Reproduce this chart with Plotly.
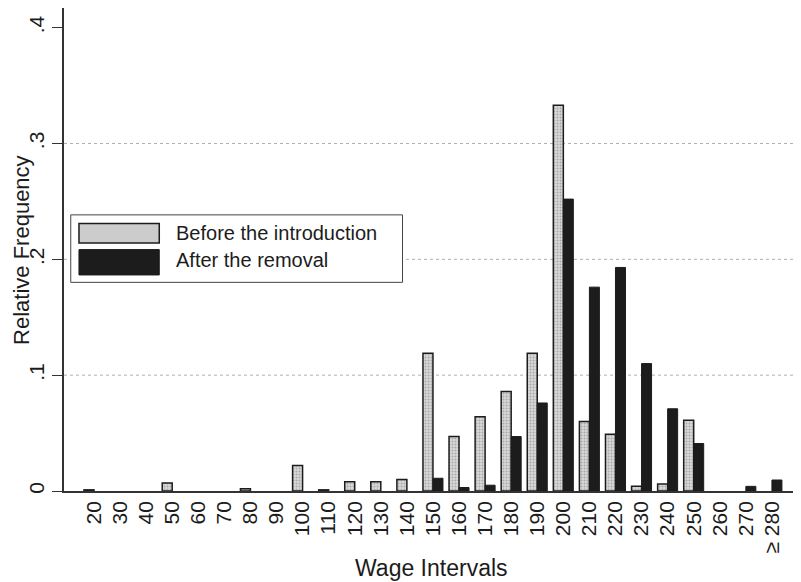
import plotly.graph_objects as go

categories = ["20", "30", "40", "50", "60", "70", "80", "90", "100", "110", "120", "130",
              "140", "150", "160", "170", "180", "190", "200", "210", "220", "230", "240",
              "250", "260", "270", "\u2265 280"]
before = [0.001, 0, 0, 0.007, 0, 0, 0.002, 0, 0.022, 0.001, 0.008, 0.008, 0.010, 0.119,
          0.047, 0.064, 0.086, 0.119, 0.333, 0.060, 0.049, 0.004, 0.006, 0.061, 0, 0, 0]
after = [0, 0, 0, 0, 0, 0, 0, 0, 0, 0, 0, 0, 0, 0.011, 0.003, 0.005, 0.047, 0.076, 0.252,
         0.176, 0.193, 0.110, 0.071, 0.041, 0, 0.004, 0.0095]
ytick_vals = [0, 0.1, 0.2, 0.3, 0.4]
ytick_text = ["0", ".1", ".2", ".3", ".4"]
legend_labels = ["Before the introduction", "After the removal"]
x_title = "Wage Intervals"
y_title = "Relative Frequency"

FONT = "Liberation Sans, Arial, sans-serif"
INK = "#1c1c1c"


def nz(vals):
    # empty intervals are drawn as no bar at all
    return [v if v > 0 else None for v in vals]


fig = go.Figure()
fig.add_trace(go.Bar(
    x=categories, y=nz(before), name=legend_labels[0],
    marker=dict(color="#cfcfcf", line=dict(color=INK, width=1.5),
                pattern=dict(shape=".", fgcolor="#7a7a7a", bgcolor="#d8d8d8", size=3, solidity=0.35)),
))
fig.add_trace(go.Bar(
    x=categories, y=nz(after), name=legend_labels[1],
    marker=dict(color=INK, line=dict(color=INK, width=1)),
))

# dotted grid lines (none at the top tick, as in the original)
for v in ytick_vals[1:-1]:
    fig.add_shape(type="line", xref="paper", yref="y", x0=0, x1=1, y0=v, y1=v,
                  line=dict(color="#b0b0b0", width=1, dash="dot"), layer="below")

# manual legend (wide swatches like the original)
fig.add_shape(type="rect", xref="paper", yref="paper", x0=0.0092, x1=0.4612, y0=0.432, y1=0.5717,
              line=dict(color="#444", width=1), fillcolor="white", layer="above")
fig.add_shape(type="rect", xref="paper", yref="paper", x0=0.0204, x1=0.1298, y0=0.5134, y1=0.5536,
              line=dict(color=INK, width=1.5), fillcolor="#cccccc", layer="above")
fig.add_shape(type="rect", xref="paper", yref="paper", x0=0.0204, x1=0.1298, y0=0.4473, y1=0.4998,
              line=dict(color=INK, width=1), fillcolor=INK, layer="above")
fig.add_annotation(xref="paper", yref="paper", x=0.1503, y=0.5337, text=legend_labels[0],
                   showarrow=False, xanchor="left", yanchor="middle",
                   font=dict(family=FONT, size=20, color=INK))
fig.add_annotation(xref="paper", yref="paper", x=0.1503, y=0.4773, text=legend_labels[1],
                   showarrow=False, xanchor="left", yanchor="middle",
                   font=dict(family=FONT, size=20, color=INK))

# axis titles
fig.add_annotation(xref="paper", yref="paper", x=0.5, y=-0.159, text=x_title,
                   showarrow=False, xanchor="center", yanchor="middle",
                   font=dict(family=FONT, size=23, color=INK))
fig.add_annotation(xref="paper", yref="paper", x=-0.058, y=0.5, text=y_title, textangle=-90,
                   showarrow=False, xanchor="center", yanchor="middle",
                   font=dict(family=FONT, size=22, color=INK))

# the page body adds an 8px offset, so the figure is sized to end at the window edge
fig.update_layout(
    width=793, height=574,
    margin=dict(l=56, r=3, t=0, b=91),
    paper_bgcolor="white", plot_bgcolor="white",
    barmode="group", bargap=0.233, bargroupgap=0,
    showlegend=False,
    font=dict(family=FONT, color=INK, size=21),
    xaxis=dict(
        type="category", range=[-1.15, 27.0], automargin=False,
        tickangle=-90, tickfont=dict(size=21),
        showline=True, linecolor="#333", linewidth=1.5,
        ticks="", showgrid=False,
    ),
    yaxis=dict(
        range=[0, 0.417], automargin=False,
        tickvals=ytick_vals, ticktext=ytick_text,
        tickangle=-90, tickfont=dict(size=21),
        ticks="outside", ticklen=10, tickcolor="#333",
        showline=True, linecolor="#333", linewidth=1.5,
        showgrid=False, zeroline=False,
    ),
)

fig.write_html("out.html")
